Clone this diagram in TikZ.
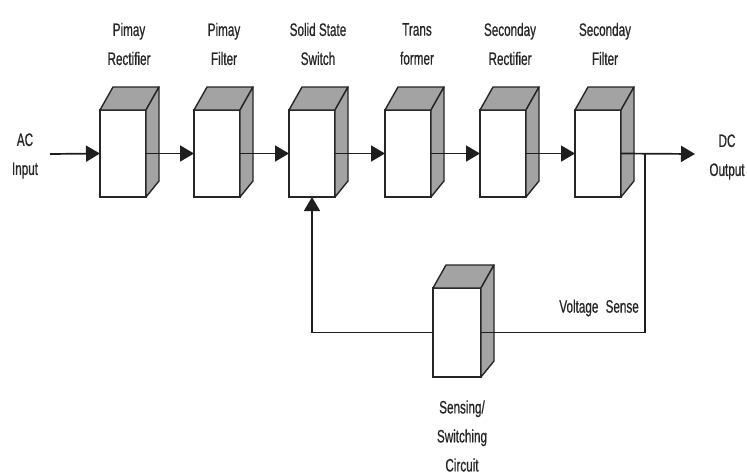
\documentclass[tikz,border=0pt]{standalone}
\usepackage{fontspec}
\newfontfamily\narrowfont[FakeStretch=0.65,FakeBold=0.6]{Liberation Sans}
\usetikzlibrary{arrows.meta,calc}
\definecolor{facegray}{HTML}{A3A3A3}
\definecolor{edgecol}{HTML}{262626}
\definecolor{conncol}{HTML}{1E1E1E}
\definecolor{textcol}{HTML}{262626}
\tikzset{
  frontface/.style={draw=edgecol, fill=white, line width=1.4pt, inner sep=0pt, outer sep=0pt, rectangle},
  facestyle/.style={draw=edgecol, fill=facegray, line width=1.4pt, line join=round},
  conn/.style={draw=conncol, line width=1.7pt},
  arr/.style={conn, -{Triangle[length=14pt,width=16pt]}},
  lbl/.style={text=textcol, align=center, inner sep=0pt, font=\narrowfont\fontsize{18}{29}\selectfont},
}
\newcommand{\cubebox}[5]{%
  \node[frontface, minimum width=#4pt, minimum height=#5pt, anchor=north west] (#1) at (#2,#3) {};
  \filldraw[facestyle] (#1.north west) -- ++(13,-23) -- ++(#4,0) -- (#1.north east) -- cycle;
  \filldraw[facestyle] (#1.north east) -- ++(13,-23) -- ($(#1.south east)+(13,-16)$) -- (#1.south east) -- cycle;
}
\begin{document}
\begin{tikzpicture}[x=1pt,y=-1pt]
\useasboundingbox[fill=white] (0,0) rectangle (747,475);
% main row boxes
\cubebox{b1}{100}{110}{46}{87}
\cubebox{b2}{194}{110}{46}{87}
\cubebox{b3}{289}{110}{46}{87}
\cubebox{b4}{385}{110}{46}{87}
\cubebox{b5}{480}{110}{46}{87}
\cubebox{b6}{575}{110}{46}{87}
% sensing box
\cubebox{s}{433}{288}{48}{89}
% labels
\node[lbl] (t1) at (129,44) {Pimay\\Rectifier};
\node[lbl] (t2) at (224,44) {Pimay\\Filter};
\node[lbl] (t3) at (318,44) {Solid State\\Switch};
\node[lbl] (t4) at (417,44) {Trans\\former};
\node[lbl] (t5) at (510,44) {Seconday\\Rectifier};
\node[lbl] (t6) at (605,44) {Seconday\\Filter};
\node[lbl] (ac) at (25,156) {AC\\Input};
\node[lbl] (dc) at (727,157) {DC\\Output};
\node[lbl, anchor=east] (vs) at (639,308) {Voltage\hspace{4pt} Sense};
\node[lbl] (sl) at (462,436) {Sensing/\\Switching\\Circuit};
% connectors
\coordinate (in) at (50,154);
\coordinate (out) at (695,154);
\coordinate (tap) at (645,154);
\draw[arr] (in) -- (b1.west);
\draw[arr] (b1.east) -- (b2.west);
\draw[arr] (b2.east) -- (b3.west);
\draw[arr] (b3.east) -- (b4.west);
\draw[arr] (b4.east) -- (b5.west);
\draw[arr] (b5.east) -- (b6.west);
\draw[arr] (b6.east) -- (out);
\draw[conn] (tap) |- (s.east);
\draw[arr] (s.west) -| (b3.south);
\end{tikzpicture}
\end{document}
